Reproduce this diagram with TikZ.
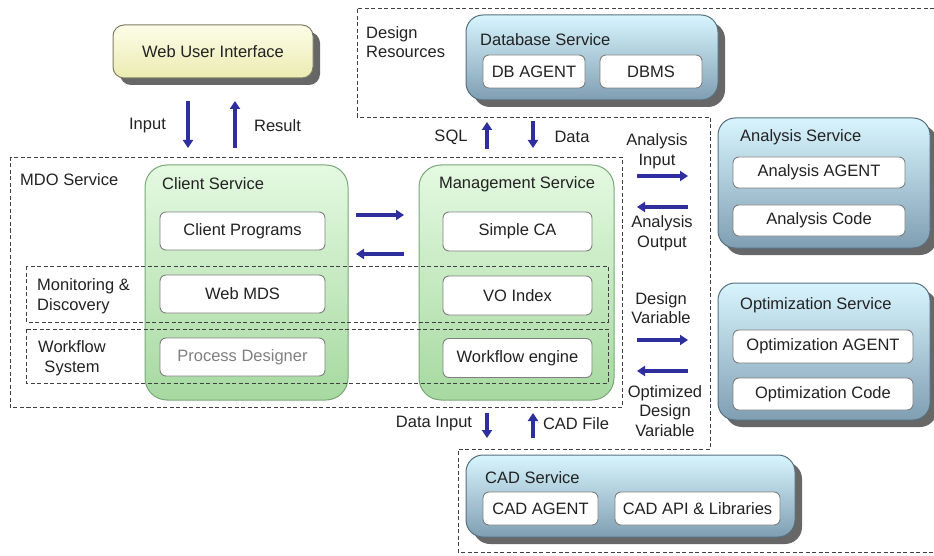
\documentclass[tikz,border=0pt]{standalone}
\usepackage{fontspec}
\setmainfont{Liberation Sans}
\usetikzlibrary{shadows,arrows.meta}
\definecolor{arrowblue}{HTML}{2E2E9E}
\definecolor{yeltop}{HTML}{FDFDE8}
\definecolor{yelbot}{HTML}{EBEBB2}
\definecolor{yelborder}{HTML}{7E7E66}
\definecolor{grntop}{HTML}{E4F9E1}
\definecolor{grnbot}{HTML}{A6D9A0}
\definecolor{grnborder}{HTML}{78A878}
\definecolor{blutop}{HTML}{D8F5FE}
\definecolor{blumid}{HTML}{B4D8E8}
\definecolor{blubot}{HTML}{7F9EB2}
\definecolor{bluborder}{HTML}{56707F}
\definecolor{txt}{HTML}{222222}
\begin{document}
\begin{tikzpicture}[x=1pt,y=-1pt,
  font=\fontsize{16.5}{19.5}\selectfont,
  every node/.style={text=txt},
  lbl/.style={inner sep=0pt, align=center},
  inbox/.style={draw=black!50, fill=white, rounded corners=6pt, line width=0.9pt, inner sep=0pt},
  yelbox/.style={draw=yelborder, rounded corners=11pt, top color=yeltop, bottom color=yelbot, line width=1pt,
     drop shadow={shadow xshift=7pt, shadow yshift=-7pt, fill=black!70, opacity=0.85}},
  grnbox/.style={draw=grnborder, rounded corners=22pt, top color=grntop, bottom color=grnbot, line width=1pt},
  blubox/.style={draw=bluborder, rounded corners=17pt, top color=blutop, middle color=blumid, bottom color=blubot, line width=1pt,
     drop shadow={shadow xshift=7pt, shadow yshift=-7pt, fill=black!70, opacity=0.85}},
  flow/.style={line width=4.5pt, draw=arrowblue, -{Triangle[length=8pt,width=10pt]}},
  dashedline/.style={dash pattern=on 4pt off 2.5pt, line width=0.9pt, draw=black!75}]
\useasboundingbox (0,0) rectangle (934,556);

% dashed group outlines
\draw[dashedline] (934,8) -- (357,8) -- (357,117) -- (710,117) -- (710,449) -- (458,449) -- (458,552) -- (934,552);
\draw[dashedline] (10,157) rectangle (622,407);

% Web user interface
\node[yelbox, minimum width=200pt, minimum height=53pt] (web) at (213,51.5) {Web User Interface};

% Design resources
\node[lbl, align=left, anchor=west] (desres) at (366,42) {Design\\Resources};
\node[blubox, minimum width=252pt, minimum height=85pt] (db) at (592,57.5) {};
\node[lbl, anchor=west] (dbt) at (480,40) {Database Service};
\node[inbox, minimum width=102pt, minimum height=33pt] (dbag) at (534,71.5) {DB AGENT};
\node[inbox, minimum width=102pt, minimum height=33pt] (dbms) at (651,71.5) {DBMS};

% MDO service
\node[lbl, anchor=west] (mdo) at (20,180) {MDO Service};
\node[grnbox, minimum width=203pt, minimum height=235pt] (client) at (246.5,282.5) {};
\node[grnbox, minimum width=195pt, minimum height=235pt] (mgmt) at (516.5,282.5) {};
\node[lbl, anchor=west] (clientt) at (162,184) {Client Service};
\node[lbl] (mgmtt) at (517,184) {Management Service};

\draw[dashedline] (26,266) rectangle (608,322);
\draw[dashedline] (26,329) rectangle (608,383);
\node[lbl, align=left, anchor=west] (mon) at (37,296) {Monitoring \&\\Discovery};
\node[lbl] (wfs) at (72,358) {Workflow\\System};

\node[inbox, minimum width=165pt, minimum height=38pt] (cprog) at (242.5,231) {Client Programs};
\node[inbox, minimum width=165pt, minimum height=38pt] (wmds) at (242.5,294) {Web MDS};
\node[inbox, minimum width=165pt, minimum height=38pt, text=black!50] (pdes) at (242.5,357) {Process Designer};
\node[inbox, minimum width=149pt, minimum height=39pt] (sca) at (517.5,231.5) {Simple CA};
\node[inbox, minimum width=149pt, minimum height=39pt] (vo) at (517.5,295.5) {VO Index};
\node[inbox, minimum width=149pt, minimum height=39pt] (wfe) at (517.5,358) {Workflow engine};

% Analysis service
\node[blubox, minimum width=212pt, minimum height=130pt] (ana) at (824,183) {};
\node[lbl, anchor=west] (anat) at (740,137) {Analysis Service};
\node[inbox, minimum width=172pt, minimum height=31pt] (anag) at (819,172.5) {Analysis AGENT};
\node[inbox, minimum width=172pt, minimum height=31pt] (anc) at (819,220.5) {Analysis Code};

% Optimization service
\node[blubox, minimum width=212pt, minimum height=137pt] (opt) at (824,351.5) {};
\node[lbl, anchor=west] (optt) at (740,305) {Optimization Service};
\node[inbox, minimum width=180pt, minimum height=33pt] (optag) at (823,346.5) {Optimization AGENT};
\node[inbox, minimum width=180pt, minimum height=32pt] (optc) at (823,394) {Optimization Code};

% CAD service
\node[blubox, minimum width=329pt, minimum height=82pt] (cad) at (630.5,496) {};
\node[lbl, anchor=west] (cadt) at (485,478) {CAD Service};
\node[inbox, minimum width=115pt, minimum height=33pt] (cadag) at (540.5,508.5) {CAD AGENT};
\node[inbox, minimum width=165pt, minimum height=33pt] (cadapi) at (697.5,508.5) {CAD API \& Libraries};

% labels
\node[lbl] (linput) at (147.5,126) {Input};
\node[lbl] (lresult) at (277.5,126) {Result};
\node[lbl] (lsql) at (451,137) {SQL};
\node[lbl] (ldata) at (572,137) {Data};
\node[lbl] (lai) at (657,151) {Analysis\\Input};
\node[lbl] (lao) at (662,233) {Analysis\\Output};
\node[lbl] (ldv) at (661,308) {Design\\Variable};
\node[lbl] (lodv) at (665,411) {Optimized\\Design\\Variable};
\node[lbl] (ldi) at (434,424) {Data Input};
\node[lbl] (lcf) at (576,424) {CAD File};

% arrow end points
\coordinate (inA) at (188,101);  \coordinate (inB) at (188,148);
\coordinate (reA) at (235,148);  \coordinate (reB) at (235,101);
\coordinate (sqA) at (487,149);  \coordinate (sqB) at (487,122);
\coordinate (daA) at (533,121);  \coordinate (daB) at (533,148);
\coordinate (c2mA) at (356,215); \coordinate (c2mB) at (404,215);
\coordinate (m2cA) at (404,254); \coordinate (m2cB) at (356,254);
\coordinate (aiA) at (637,176);  \coordinate (aiB) at (688,176);
\coordinate (aoA) at (688,207);  \coordinate (aoB) at (637,207);
\coordinate (dvA) at (637,340);  \coordinate (dvB) at (688,340);
\coordinate (odA) at (688,371);  \coordinate (odB) at (637,371);
\coordinate (diA) at (487,413);  \coordinate (diB) at (487,438);
\coordinate (cfA) at (533,438);  \coordinate (cfB) at (533,413);

\draw[flow] (inA) -- (inB);
\draw[flow] (reA) -- (reB);
\draw[flow] (sqA) -- (sqB);
\draw[flow] (daA) -- (daB);
\draw[flow] (c2mA) -- (c2mB);
\draw[flow] (m2cA) -- (m2cB);
\draw[flow] (aiA) -- (aiB);
\draw[flow] (aoA) -- (aoB);
\draw[flow] (dvA) -- (dvB);
\draw[flow] (odA) -- (odB);
\draw[flow] (diA) -- (diB);
\draw[flow] (cfA) -- (cfB);
\end{tikzpicture}
\end{document}
